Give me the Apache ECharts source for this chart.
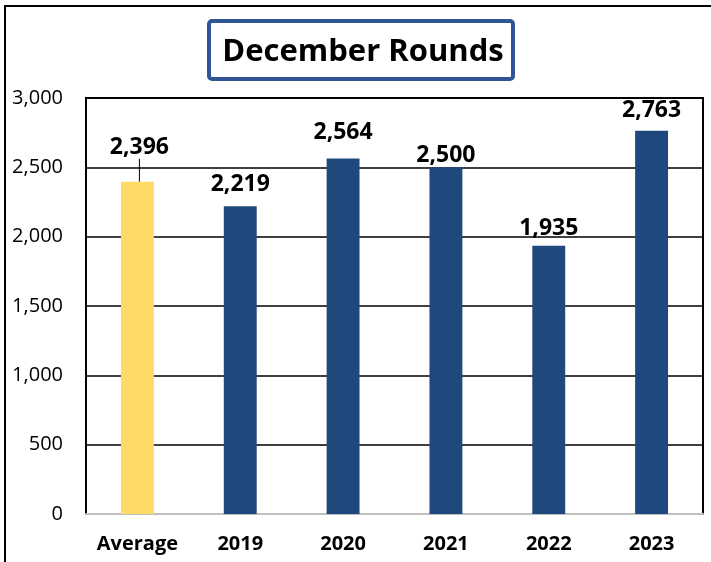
<!DOCTYPE html>
<html>
<head>
<meta charset="utf-8">
<script src="https://cdn.jsdelivr.net/npm/echarts@6/dist/echarts.min.js"></script>
<style>
  html, body { margin: 0; padding: 0; background: #fff; }
  #chart { width: 711px; height: 562px; }
</style>
</head>
<body>
<div id="chart"></div>
<script>
// chart data
const categories = ['Average', '2019', '2020', '2021', '2022', '2023'];
const rounds = [2396, 2219, 2564, 2500, 1935, 2763];
const yTicks = [0, 500, 1000, 1500, 2000, 2500, 3000];

// label nudges (px) so the labels sit roughly where the original puts them
const labelLift = [-23, -10, -15, 0, -6, -9];

const FONT = '"Open Sans", sans-serif';
const NAVY = '#1F497D';
const GOLD = '#FFD966';

let chart = echarts.init(document.getElementById('chart'), null, {renderer: 'canvas'});

let option = {
    animation: false,
    backgroundColor: '#fff',
    title: {
        text: 'December Rounds',
        left: 358,
        top: 32,
        textAlign: 'center',
        textStyle: {fontFamily: FONT, fontSize: 31, fontWeight: 'bold', color: '#000'}
    },
    graphic: [
        {
            type: 'rect', z: -1,
            shape: {x: 5, y: 6, width: 800, height: 700},
            style: {fill: null, stroke: '#000', lineWidth: 2}
        },
        {
            type: 'rect', z: 0,
            shape: {x: 209, y: 21, width: 304, height: 58, r: 3},
            style: {fill: '#fff', stroke: '#2F5597', lineWidth: 4}
        }
    ],
    grid: {
        left: 86, top: 98, right: 8, bottom: 48,
        show: true, borderColor: '#000', borderWidth: 2
    },
    xAxis: {
        type: 'category',
        data: categories,
        axisTick: {show: false},
        axisLine: {lineStyle: {color: '#bfbfbf', width: 2}},
        axisLabel: {
            interval: 0, margin: 20, color: '#000',
            fontFamily: FONT, fontSize: 20, fontWeight: 'bold'
        }
    },
    yAxis: {
        type: 'value',
        min: yTicks[0],
        max: yTicks[yTicks.length - 1],
        interval: 500,
        axisLine: {show: false},
        axisTick: {show: false},
        splitLine: {lineStyle: {color: '#000', width: 1.5}},
        axisLabel: {
            margin: 23, color: '#000',
            fontFamily: FONT, fontSize: 20,
            formatter: v => v.toLocaleString('en-US')
        }
    },
    series: [{
        type: 'bar',
        barWidth: '32%',
        data: rounds.map((v, i) => ({
            value: v,
            itemStyle: {color: i === 0 ? GOLD : NAVY},
            labelLine: {show: i === 0}
        })),
        label: {
            show: true,
            position: 'top',
            distance: 0,
            color: '#000',
            fontFamily: FONT,
            fontSize: 23,
            fontWeight: 'bold',
            formatter: p => p.value.toLocaleString('en-US')
        },
        labelLine: {show: false, lineStyle: {color: '#000', width: 1}},
        labelLayout: function (params) {
            return {dx: params.dataIndex === 0 ? 2 : 0, dy: labelLift[params.dataIndex]};
        }
    }]
};

chart.setOption(option);
</script>
</body>
</html>
